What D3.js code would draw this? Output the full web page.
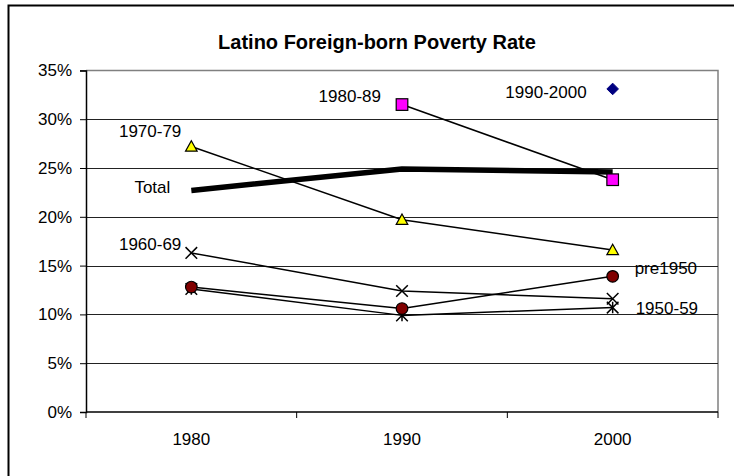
<!DOCTYPE html>
<html>
<head>
<meta charset="utf-8">
<script src="https://cdn.jsdelivr.net/npm/d3@7"></script>
<style>
  html, body { margin: 0; padding: 0; background: #fff; }
  svg { display: block; font-family: "Liberation Sans", Arial, sans-serif; }
</style>
</head>
<body>
<svg id="chart" width="734" height="476"></svg>
<script>
// Census years on the x axis
const categories = ["1980", "1990", "2000"];

// Poverty rate (%) by period of arrival; null where the cohort had not yet arrived
const total      = [22.7, 24.9, 24.6];
const arr197079  = [27.2, 19.7, 16.6];
const arr198089  = [null, 31.5, 23.8];
const arr19902000 = [null, null, 33.1];
const arr196069  = [16.3, 12.4, 11.6];
const arr195059  = [12.6, 9.9, 10.7];
const pre1950    = [12.8, 10.6, 13.9];

const yTicks = [0, 5, 10, 15, 20, 25, 30, 35];

const series = [
  { name: "Total",     values: total,       marker: "none",     width: 5.5 },
  { name: "1970-79",   values: arr197079,   marker: "triangle", fill: "#ffff00", width: 1.5 },
  { name: "1960-69",   values: arr196069,   marker: "x",        width: 1.5 },
  { name: "1950-59",   values: arr195059,   marker: "star",     width: 1.5 },
  { name: "pre1950",   values: pre1950,     marker: "circle",   fill: "#800000", width: 1.5 },
  { name: "1980-89",   values: arr198089,   marker: "square",   fill: "#ff00ff", width: 1.5 },
  { name: "1990-2000", values: arr19902000, marker: "diamond",  fill: "#000080", width: 1.5 }
];

// Where each series name sits relative to one of its points
const labelPlacement = {
  "1970-79":   { at: 0, dx: -10, dy: -15, anchor: "end" },
  "Total":     { at: 0, dx: -21, dy: -3,  anchor: "end" },
  "1960-69":   { at: 0, dx: -10, dy: -9,  anchor: "end" },
  "1980-89":   { at: 1, dx: -21, dy: -9,  anchor: "end" },
  "1990-2000": { at: 2, dx: -26, dy: 3,   anchor: "end" },
  "pre1950":   { at: 2, dx: 22,  dy: -8,  anchor: "start" },
  "1950-59":   { at: 2, dx: 23,  dy: 0,   anchor: "start" }
};

const svg = d3.select("#chart");

// Outer chart frame
svg.append("rect")
  .attr("x", 8.5).attr("y", 5.5)
  .attr("width", 760).attr("height", 500)
  .attr("fill", "#fff").attr("stroke", "#000").attr("stroke-width", 2);

const plot = { left: 86, right: 718, top: 70.4, bottom: 412 };

const x = d3.scaleBand().domain(categories).range([plot.left, plot.right]);
const y = d3.scaleLinear().domain([0, 35]).range([plot.bottom, plot.top]);

// Title
svg.append("text")
  .attr("x", 377).attr("y", 49)
  .attr("text-anchor", "middle")
  .attr("font-size", 20).attr("font-weight", "bold")
  .text("Latino Foreign-born Poverty Rate");

// Plot frame (top and right edges)
svg.append("path")
  .attr("d", `M${plot.left},${plot.top}H${plot.right}V${plot.bottom}`)
  .attr("fill", "none").attr("stroke", "#808080").attr("stroke-width", 1.5);

// Horizontal gridlines
svg.append("g")
  .selectAll("line")
  .data(yTicks.filter(t => t > 0 && t < 35))
  .join("line")
  .attr("x1", plot.left).attr("x2", plot.right)
  .attr("y1", d => Math.round(y(d)) + 0.5).attr("y2", d => Math.round(y(d)) + 0.5)
  .attr("stroke", "#222").attr("stroke-width", 1);

// Y axis
const yAxis = svg.append("g")
  .attr("transform", `translate(${plot.left},0)`)
  .call(d3.axisLeft(y).tickValues(yTicks).tickSize(6).tickPadding(8)
    .tickFormat(d => d + "%"));
yAxis.select(".domain").attr("stroke", "#000").attr("stroke-width", 1.5);
yAxis.selectAll(".tick line").attr("stroke", "#000");
yAxis.selectAll(".tick text")
  .attr("font-size", 17).attr("font-family", "Liberation Sans, Arial, sans-serif")
  .attr("fill", "#000");

// X axis: ticks at category boundaries, labels at band centres
const xAxisG = svg.append("g").attr("transform", `translate(0,${plot.bottom})`);
xAxisG.append("line")
  .attr("x1", plot.left).attr("x2", plot.right)
  .attr("stroke", "#000").attr("stroke-width", 1.5);
const boundaries = categories.map(c => x(c)).concat([x(categories[categories.length - 1]) + x.bandwidth()]);
xAxisG.selectAll(".xtick")
  .data(boundaries)
  .join("line")
  .attr("class", "xtick")
  .attr("x1", d => d).attr("x2", d => d)
  .attr("y1", 0).attr("y2", 6)
  .attr("stroke", "#000").attr("stroke-width", 1);
xAxisG.selectAll(".xlabel")
  .data(categories)
  .join("text")
  .attr("class", "xlabel")
  .attr("x", d => x(d) + x.bandwidth() / 2)
  .attr("y", 33)
  .attr("text-anchor", "middle")
  .attr("font-size", 17)
  .text(d => d);

const cx = i => x(categories[i]) + x.bandwidth() / 2;

const line = d3.line()
  .defined(d => d.v != null)
  .x(d => cx(d.i))
  .y(d => y(d.v));

// Series lines
series.forEach(s => {
  const pts = s.values.map((v, i) => ({ v, i }));
  svg.append("path")
    .datum(pts)
    .attr("fill", "none")
    .attr("stroke", "#000")
    .attr("stroke-width", s.width)
    .attr("stroke-linejoin", "round")
    .attr("d", line);
});

// Markers
function drawMarker(g, s, px, py) {
  const r = 5.8;
  switch (s.marker) {
    case "triangle":
      g.append("path")
        .attr("d", `M${px},${py - r}L${px + r},${py + r * 0.8}L${px - r},${py + r * 0.8}Z`)
        .attr("fill", s.fill).attr("stroke", "#000").attr("stroke-width", 1.2);
      break;
    case "square":
      g.append("rect")
        .attr("x", px - r).attr("y", py - r).attr("width", 2 * r).attr("height", 2 * r)
        .attr("fill", s.fill).attr("stroke", "#000").attr("stroke-width", 1.2);
      break;
    case "circle":
      g.append("circle")
        .attr("cx", px).attr("cy", py).attr("r", r)
        .attr("fill", s.fill).attr("stroke", "#000").attr("stroke-width", 1.2);
      break;
    case "diamond":
      g.append("path")
        .attr("d", `M${px},${py - r}L${px + r},${py}L${px},${py + r}L${px - r},${py}Z`)
        .attr("fill", s.fill).attr("stroke", s.fill);
      break;
    case "x":
      g.append("path")
        .attr("d", `M${px - r},${py - r}L${px + r},${py + r}M${px - r},${py + r}L${px + r},${py - r}`)
        .attr("stroke", "#000").attr("stroke-width", 1.5);
      break;
    case "star":
      g.append("path")
        .attr("d", `M${px - r},${py - r}L${px + r},${py + r}M${px - r},${py + r}L${px + r},${py - r}M${px},${py - r}L${px},${py + r}`)
        .attr("stroke", "#000").attr("stroke-width", 1.5);
      break;
  }
}

const markerLayer = svg.append("g");
series.forEach(s => {
  if (s.marker === "none") return;
  s.values.forEach((v, i) => {
    if (v == null) return;
    drawMarker(markerLayer, s, cx(i), y(v));
  });
});

// Series name labels
series.forEach(s => {
  const p = labelPlacement[s.name];
  svg.append("text")
    .attr("x", cx(p.at) + p.dx)
    .attr("y", y(s.values[p.at]) + p.dy)
    .attr("dy", "0.35em")
    .attr("text-anchor", p.anchor)
    .attr("font-size", 17)
    .text(s.name);
});
</script>
</body>
</html>
